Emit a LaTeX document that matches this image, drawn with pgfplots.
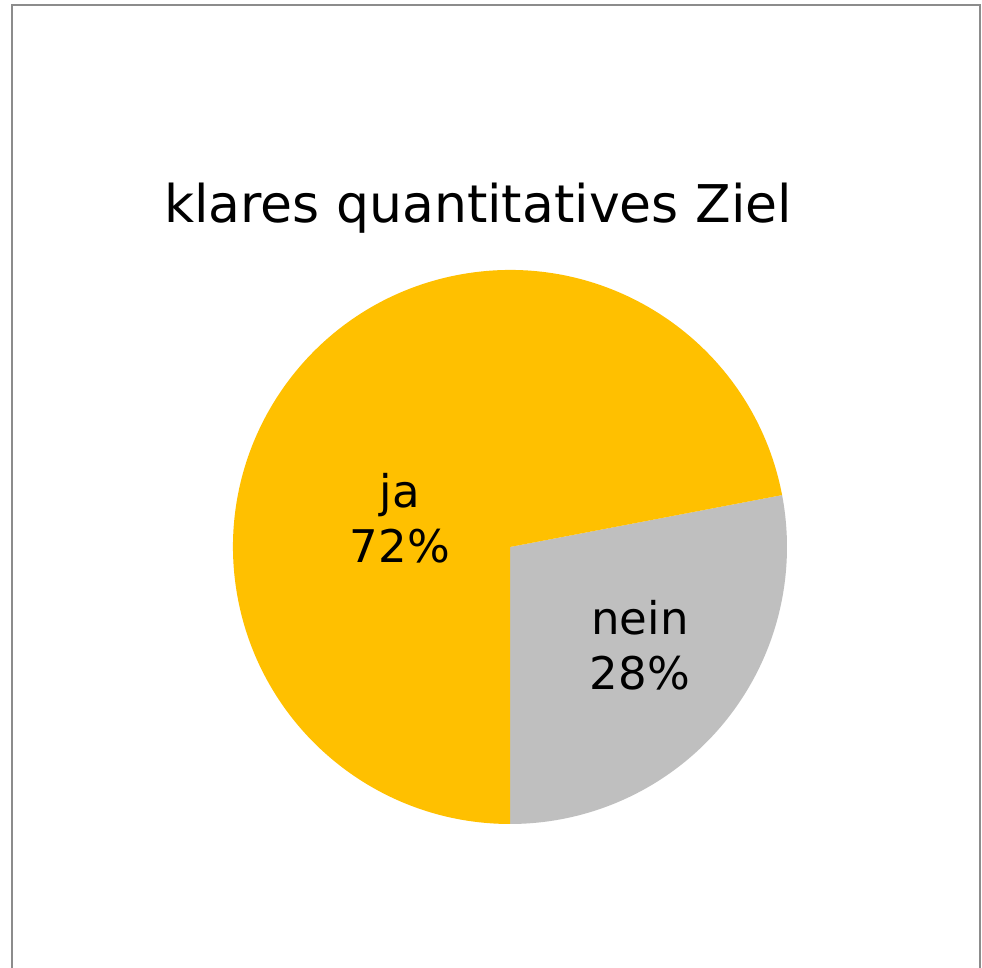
\documentclass[border=0pt]{standalone}
\usepackage{pgfplots}
\pgfplotsset{compat=1.18}
\usepackage{pgfplotstable}
\usepackage{fontspec}
\setmainfont{DejaVu Sans}
\definecolor{jaC}{HTML}{FFC000}
\definecolor{neinC}{HTML}{BFBFBF}
\definecolor{frameC}{HTML}{8C8C8C}
\pgfplotstableread{
label value
ja 72
nein 28
}\pietable
\begin{document}
\begin{tikzpicture}
\pgfplotstablegetelem{0}{value}\of\pietable \pgfmathtruncatemacro{\valJa}{\pgfplotsretval}
\pgfplotstablegetelem{1}{value}\of\pietable \pgfmathtruncatemacro{\valNein}{\pgfplotsretval}
\pgfmathsetmacro{\angSplit}{-90+\valNein*3.6}
\begin{axis}[width=491pt, height=484pt, scale only axis,
    xmin=0, xmax=982, ymin=0, ymax=968, hide axis, clip=true]
\addplot[draw=none] coordinates {(0,0) (982,968)};
\fill[white] (axis cs:0,0) rectangle (axis cs:982,968);
\draw[frameC, line width=1pt] (axis cs:12,-20) -- (axis cs:12,963) -- (axis cs:980,963) -- (axis cs:980,-20);
% pie
\fill[neinC] (axis cs:510,421) -- ++(-90:138.5pt) arc[start angle=-90, end angle=\angSplit, radius=138.5pt] -- cycle;
\fill[jaC] (axis cs:510,421) -- ++(\angSplit:138.5pt) arc[start angle=\angSplit, end angle=270, radius=138.5pt] -- cycle;
% text
\node[font=\fontsize{26}{32}\selectfont] at (axis cs:478,760) {klares quantitatives Ziel};
\node[align=center, font=\fontsize{22.5}{27.5}\selectfont] at (axis cs:400,450) {ja\\\valJa\%};
\node[align=center, font=\fontsize{22.5}{27.5}\selectfont] at (axis cs:640,323) {nein\\\valNein\%};
\end{axis}
\end{tikzpicture}
\end{document}
